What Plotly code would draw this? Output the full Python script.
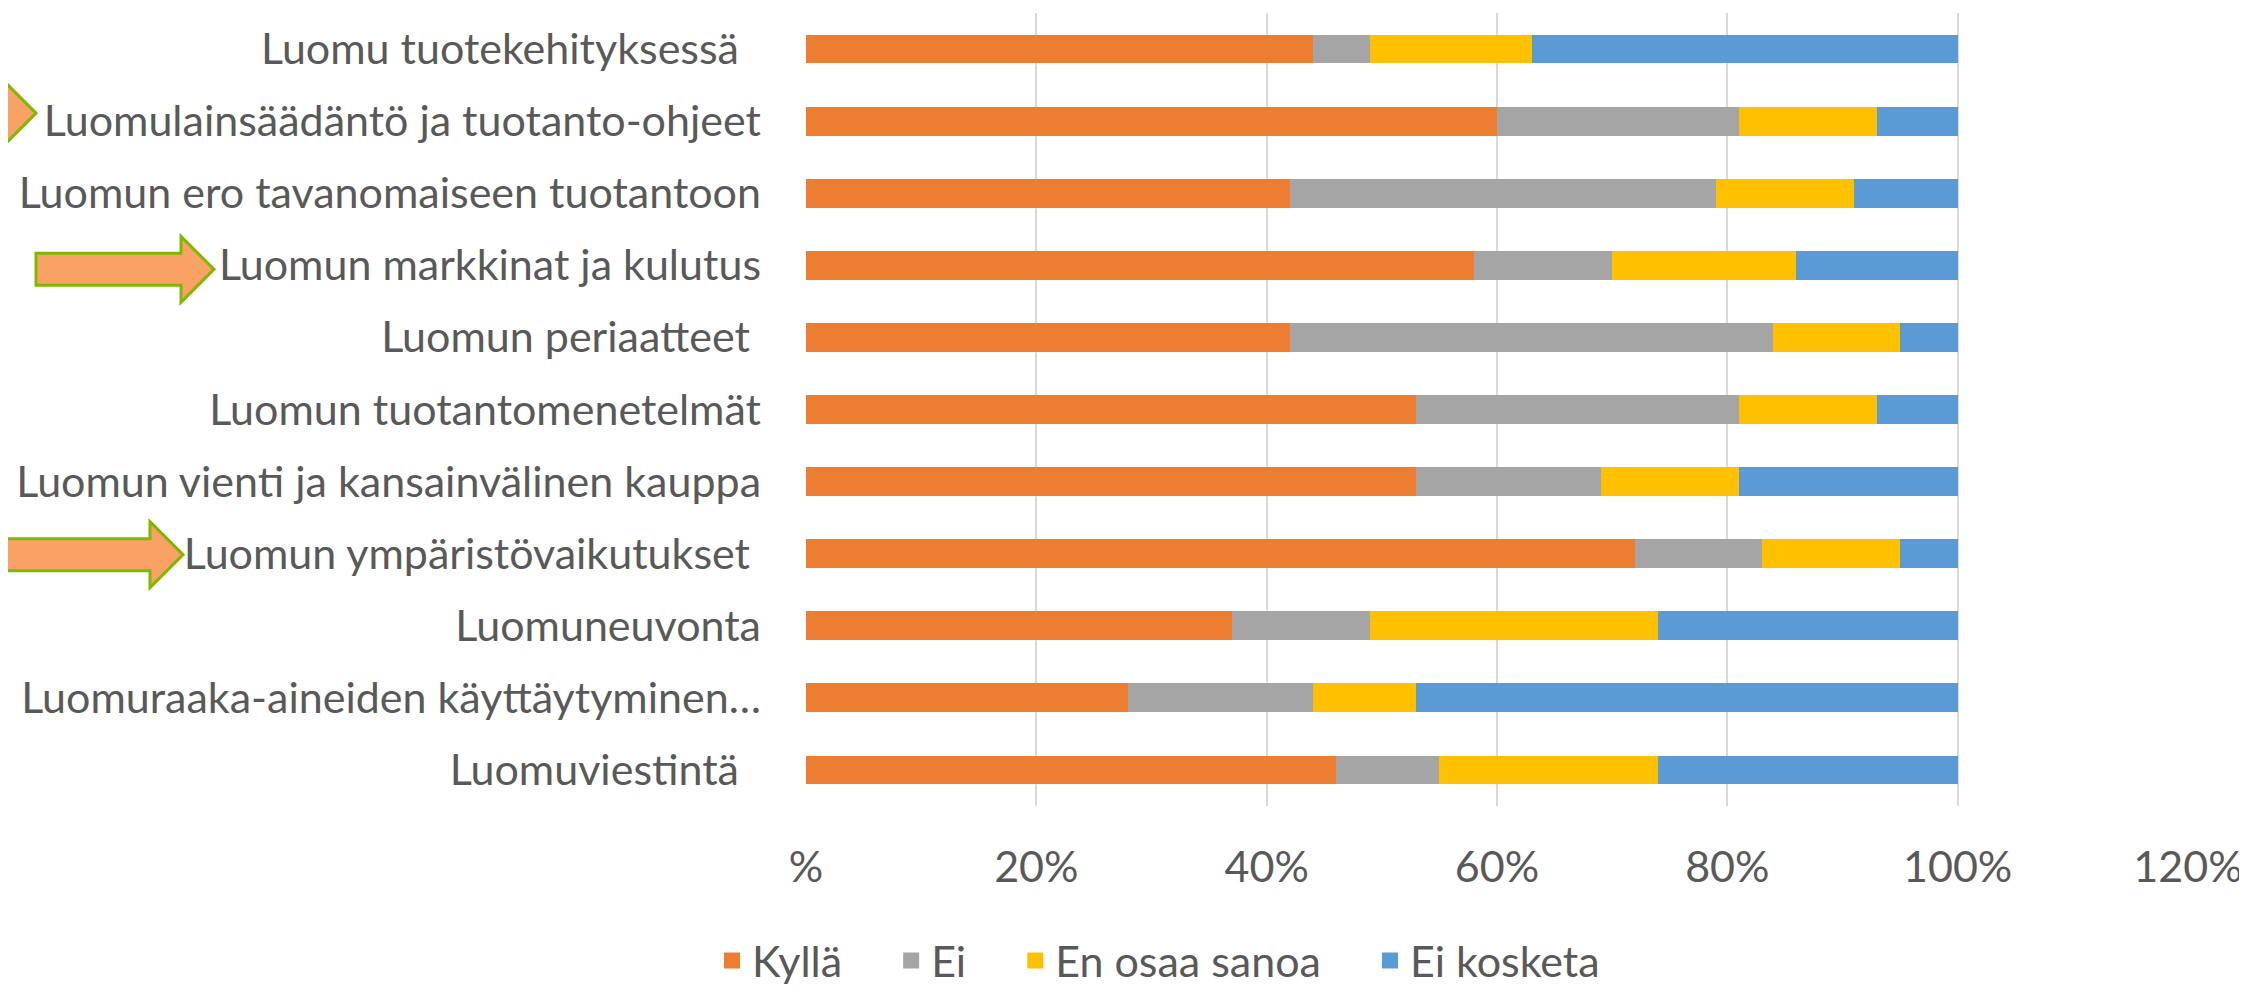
import plotly.graph_objects as go

categories = [
    "Luomu tuotekehityksessä\u00a0\u00a0",
    "Luomulainsäädäntö ja tuotanto-ohjeet",
    "Luomun ero tavanomaiseen tuotantoon",
    "Luomun markkinat ja kulutus",
    "Luomun periaatteet\u00a0",
    "Luomun tuotantomenetelmät",
    "Luomun vienti ja kansainvälinen kauppa",
    "Luomun ympäristövaikutukset\u00a0",
    "Luomuneuvonta",
    "Luomuraaka-aineiden käyttäytyminen…",
    "Luomuviestintä\u00a0\u00a0",
]
kylla = [44, 60, 42, 58, 42, 53, 53, 72, 37, 28, 46]
ei = [5, 21, 37, 12, 42, 28, 16, 11, 12, 16, 9]
en_osaa = [14, 12, 12, 16, 11, 12, 12, 12, 25, 9, 19]
ei_kosketa = [37, 7, 9, 14, 5, 7, 19, 5, 26, 47, 26]

series_names = ["Kyllä", "Ei", "En osaa sanoa", "Ei kosketa"]
series_values = [kylla, ei, en_osaa, ei_kosketa]
series_colors = ["#ED7D31", "#A5A5A5", "#FFC000", "#5B9BD5"]

tick_vals = [0, 20, 40, 60, 80, 100, 120]
tick_text = ["%", "20%", "40%", "60%", "80%", "100%", "120%"]

highlighted = [categories[1], categories[3], categories[7]]
arrow_tip_px = [-770, -592, -623]
arrow_dy_px = [8, -4, -1]

FONT = "Lato, Carlito, Calibri, sans-serif"
TXT = "#595959"
PAD = "\u00a0" * 4

fig = go.Figure()
for name, vals, col in zip(series_names, series_values, series_colors):
    fig.add_trace(go.Bar(
        y=categories, x=vals, name=name, orientation="h",
        marker=dict(color=col, line=dict(width=0)),
        legendgroup=name, showlegend=False,
    ))
for name, col in zip(series_names, series_colors):
    fig.add_trace(go.Scatter(
        x=[None], y=[None], mode="markers", name=name + PAD,
        marker=dict(symbol="square", size=16, color=col),
        legendgroup=name, showlegend=True, hoverinfo="skip",
    ))

for cat, tip, dy in zip(highlighted, arrow_tip_px, arrow_dy_px):
    head, shaft_len, hh, sh = 33, 145, 33, 16
    pts = [(tip, 0), (tip - head, hh), (tip - head, sh), (tip - head - shaft_len, sh),
           (tip - head - shaft_len, -sh), (tip - head, -sh), (tip - head, -hh)]
    path = "M " + " L ".join(f"{x},{y + dy}" for x, y in pts) + " Z"
    fig.add_shape(
        type="path", path=path,
        xref="paper", xsizemode="pixel", xanchor=0,
        yref="y", ysizemode="pixel", yanchor=cat,
        fillcolor="#FAA266", line=dict(color="#7FB800", width=3),
        layer="above",
    )

fig.update_layout(
    barmode="stack",
    bargap=0.6,
    width=2247, height=986,
    margin=dict(l=798, r=67, t=5, b=188, autoexpand=False),
    paper_bgcolor="white", plot_bgcolor="white",
    font=dict(family=FONT, size=43, color=TXT),
    showlegend=True,
    legend=dict(
        orientation="h", x=-0.068, xanchor="left", y=-0.195, yanchor="middle",
        font=dict(family=FONT, size=43, color=TXT),
        traceorder="normal", itemwidth=30,
    ),
    xaxis=dict(
        range=[0, 120], tickvals=tick_vals, ticktext=tick_text,
        showgrid=True, gridcolor="#D9D9D9", gridwidth=2,
        zeroline=False, showline=False, ticks="",
        ticklabelstandoff=32,
        tickfont=dict(family=FONT, size=43, color=TXT),
    ),
    yaxis=dict(
        autorange="reversed", showgrid=False, zeroline=False, showline=False,
        ticks="", ticklabelstandoff=44,
        tickfont=dict(family=FONT, size=43, color=TXT),
    ),
)

fig.write_html("out.html")
